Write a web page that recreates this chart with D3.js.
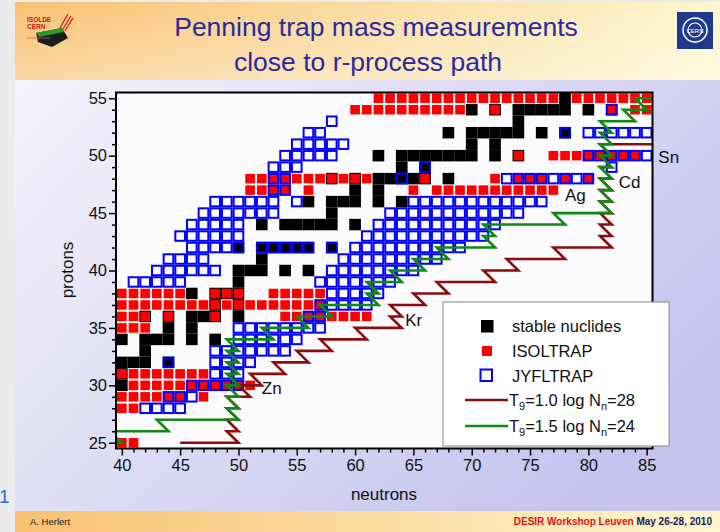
<!DOCTYPE html>
<html><head><meta charset="utf-8">
<script src="https://cdn.jsdelivr.net/npm/d3@7"></script>
<style>body{margin:0;background:#fff;} svg{display:block;font-family:Arial,"Liberation Sans",sans-serif;}</style>
</head><body><svg id="c" width="720" height="532"></svg>
<script>
// ---------- data ----------
const xTicks = [40,45,50,55,60,65,70,75,80,85];
const yTicks = [25,30,35,40,45,50,55];
// stable nuclides: [Z, [N...]]
const stableRows = [
 [30,[40]],[31,[40]],[32,[40,41,42,44]],[33,[42]],[34,[40,42,43,44,46,48]],
 [35,[44,46]],[36,[42,44,46,47,48,50]],[37,[48,50]],[38,[46,48,49,50]],[39,[50]],
 [40,[50,51,52,54,56]],[41,[52]],[42,[50,52,53,54,55,56,58]],[44,[52,54,55,56,57,58,60]],
 [45,[58]],[46,[56,58,59,60,62,64]],[47,[60,62]],[48,[58,60,62,63,64,65,66,68]],
 [49,[64,66]],[50,[62,64,65,66,67,68,69,70,72,74]],[51,[70,72]],
 [52,[68,70,71,72,73,74,76,78]],[53,[74]],[54,[70,72,74,75,76,77,78,80,82]],[55,[78]]
];
// ISOLTRAP: [Z, [N...]]
const isoltrapRows = [
 [25,[40,41]],
 [28,[40,41]],
 [29,[40,41,42,43,44,45,47]],
 [30,[41,42,43,44,45,46,47,48,49,50,51]],
 [31,[40,41,42,43,44,45,46,47]],
 [35,[40,41,42]],
 [36,[40,41,42,44,48,54,55,56,57,58,59,60,61]],
 [37,[40,41,42,43,44,45,46,47,48,49,50,51,52,53,54,55,56,57]],
 [38,[40,41,42,43,44,45,48,49,50,53,54,55,56,57]],
 [47,[51,52,53,54,56,65,67,68,69,70,71,72,73,74,75,76,77]],
 [48,[51,52,53,54,55,56,57,58,59,60,61,66,72,74,75,76,78,80]],
 [50,[74,77,78,79,80,81,82,83,84]],
 [54,[60,61,62,63,64,65,66,67,68,69,72,82,84,85]],
 [55,[62,63,64,65,66,67,68,69,70,71,72,73,74,75,76,77,79,80,81,82,83,84,85]]
];
// JYFLTRAP: [Z, [N...]]
const jyflRows = [
 [28,[42,43,44,45]],
 [29,[44,45,46]],
 [30,[46,47,48,49,50]],
 [31,[48,49,50]],
 [32,[44,48,49,50,51]],
 [33,[48,49,50,51,52,53,54]],
 [34,[50,51,52,53,54,55]],
 [35,[50,51,52,53,54,55,56,57]],
 [36,[56,57]],
 [37,[57,58,59,60,61]],
 [38,[58,59,60,61,62]],
 [39,[41,42,43,44,45,57,58,59,60,61,62,63]],
 [40,[43,44,45,46,47,48,58,59,60,61,62,63,64,65]],
 [41,[44,45,46,47,59,60,61,62,63,64,65,66,67]],
 [42,[46,47,48,49,50,52,53,54,55,56,58,60,61,62,63,64,65,66,67,68,69]],
 [43,[45,46,47,48,49,50,61,62,63,64,65,66,67,68,69,70,71]],
 [44,[46,47,48,49,50,62,63,64,65,66,67,68,69,70,71,72]],
 [45,[47,48,49,50,51,52,53,63,64,65,66,67,68,69,70,71,72,73,74]],
 [46,[48,49,50,51,52,53,55,65,66,67,68,69,70,71,72,73,74,75,76]],
 [47,[53,54]],
 [48,[53,54,64,73,74,75,76,77,78,79,80]],
 [49,[53,54,55,66,82]],
 [50,[54,55,56,57,58,80,81,82,83,84,85]],
 [51,[55,56,57,58,59]],
 [52,[56,57,78,80,81,82,83,84,85]],
 [53,[58]],
 [54,[82]]
];
// r-process paths: [N, Z]
const pathT10 = [[45,25],[50,25],[49,26],[50,26],[49,27],[50,27],[49,28],[50,28],[49,29],[51,29],[50,30],[52,30],[51,31],[54,31],[53,32],[56,32],[55,33],[58,33],[57,34],[61,34],[60,35],[64,35],[63,36],[64,36],[63,37],[66,37],[65,38],[68,38],[67,39],[72,39],[71,40],[74,40],[73,41],[78,41],[77,42],[82,42],[81,43],[82,43],[81,44],[82,44],[81,45],[82,45],[81,46],[82,46],[81,47],[82,47],[81,48],[82,48],[81,49],[82,49],[81,50],[82,50],[81,51],[87,51]];
const pathT15 = [[38,25],[40,25],[39,26],[44,26],[43,27],[50,27],[49,28],[50,28],[49,29],[50,29],[49,30],[50,30],[49,31],[50,31],[49,32],[50,32],[49,33],[50,33],[49,34],[53,34],[52,35],[56,35],[55,36],[58,36],[57,37],[62,37],[61,38],[62,38],[61,39],[64,39],[63,40],[66,40],[65,41],[68,41],[67,42],[72,42],[71,43],[72,43],[71,44],[78,44],[77,45],[82,45],[81,46],[82,46],[81,47],[82,47],[81,48],[82,48],[81,49],[82,49],[81,50],[82,50],[81,51],[82,51],[81,52],[82,52],[81,53],[84,53],[83,54],[85,54],[84,55],[87,55]];
const elementLabels = [["Sn",86.0,49.9],["Cd",82.6,47.7],["Ag",78.0,46.6],["Kr",64.3,35.7],["Zn",52.0,29.8]];
const legendItems = ["stable nuclides","ISOLTRAP","JYFLTRAP"];

// ---------- drawing ----------
const svg = d3.select("#c");
const defs = svg.append("defs");
const gHead = defs.append("linearGradient").attr("id","gh").attr("x1",0).attr("x2",1).attr("y1",0).attr("y2",0);
gHead.append("stop").attr("offset","0%").attr("stop-color","#f8c172");
gHead.append("stop").attr("offset","100%").attr("stop-color","#fef7cf");
const gHeadV = defs.append("linearGradient").attr("id","ghv").attr("x1",0).attr("x2",0).attr("y1",0).attr("y2",1);
gHeadV.append("stop").attr("offset","0%").attr("stop-color","#ffffff").attr("stop-opacity",0);
gHeadV.append("stop").attr("offset","100%").attr("stop-color","#ffffff").attr("stop-opacity",0.35);
const gBody = defs.append("linearGradient").attr("id","gb").attr("x1",0).attr("x2",1).attr("y1",0).attr("y2",0.6);
gBody.append("stop").attr("offset","0%").attr("stop-color","#f4f4fb");
gBody.append("stop").attr("offset","100%").attr("stop-color","#c4c4ee");

svg.append("rect").attr("width",720).attr("height",532).attr("fill","#ebebeb");
svg.append("rect").attr("x",15).attr("y",80).attr("width",705).attr("height",432).attr("fill","url(#gb)");
svg.append("rect").attr("x",15).attr("y",2).attr("width",705).attr("height",78).attr("fill","url(#gh)");
svg.append("rect").attr("x",15).attr("y",2).attr("width",705).attr("height",78).attr("fill","url(#ghv)");
svg.append("rect").attr("x",15).attr("y",511).attr("width",705).attr("height",21).attr("fill","url(#gh)");

// title
svg.append("text").attr("x",376).attr("y",36).attr("text-anchor","middle").attr("font-size",26.5).attr("fill","#2a2aa0").text("Penning trap mass measurements");
svg.append("text").attr("x",368).attr("y",71).attr("text-anchor","middle").attr("font-size",26.5).attr("fill","#2a2aa0").text("close to r-process path");

// ISOLDE logo (simplified)
const logo = svg.append("g");
logo.append("path").attr("d","M36,33 L62,28 L68,38 L52,47 L38,42 Z").attr("fill","#1c1c1c");
logo.append("path").attr("d","M36,33 L62,28 L64,32 L39,37 Z").attr("fill","#2a9a2a");
logo.append("path").attr("d","M60,28 L68,14 M63,29 L71,16 M65,31 L73,18").attr("stroke","#d02020").attr("stroke-width",1.3);
logo.append("text").attr("x",27).attr("y",22).attr("font-size",6.5).attr("font-weight","bold").attr("fill","#c01818").text("ISOLDE");
logo.append("text").attr("x",27).attr("y",29).attr("font-size",6.5).attr("font-weight","bold").attr("fill","#c01818").text("CERN");
logo.append("line").attr("x1",27).attr("x2",50).attr("y1",38).attr("y2",38).attr("stroke","#d06060").attr("stroke-width",0.8);
// CERN logo (simplified)
const cern = svg.append("g");
cern.append("rect").attr("x",677).attr("y",12).attr("width",36).attr("height",37).attr("fill","#1f3a8c");
cern.append("circle").attr("cx",695).attr("cy",30).attr("r",12).attr("fill","none").attr("stroke","#fff").attr("stroke-width",1.5);
cern.append("circle").attr("cx",695).attr("cy",30).attr("r",7).attr("fill","none").attr("stroke","#fff").attr("stroke-width",1.2);
cern.append("text").attr("x",695).attr("y",33).attr("text-anchor","middle").attr("font-size",6).attr("fill","#fff").text("CERN");

// footer
svg.append("text").attr("x",30).attr("y",525).attr("font-size",9.5).attr("fill","#222").text("A. Herlert");
const ft = svg.append("text").attr("x",712).attr("y",525).attr("text-anchor","end").attr("font-size",10).attr("font-weight","bold");
ft.append("tspan").attr("fill","#e01010").text("DESIR Workshop Leuven ");
ft.append("tspan").attr("fill","#1a1a50").text("May 26-28, 2010");
svg.append("text").attr("x",-1).attr("y",503).attr("font-size",19).attr("fill","#2d6fd0").text("1");

// scales
const x = d3.scaleLinear().domain([39.5,85.5]).range([116,652.5]);
const y = d3.scaleLinear().domain([24.5,55.5]).range([448.5,92.5]);
const cw = x(1)-x(0), ch = y(0)-y(1);

svg.append("rect").attr("x",x(39.5)).attr("y",y(55.5)).attr("width",x(85.5)-x(39.5)).attr("height",y(24.5)-y(55.5)).attr("fill","#fbfbfe");

const flat = rows => rows.flatMap(([z,ns]) => ns.map(n => ({n, z})));
const plot = svg.append("g");
plot.selectAll("rect.st").data(flat(stableRows)).join("rect").attr("class","st")
  .attr("x",d=>x(d.n)-cw/2).attr("y",d=>y(d.z)-ch/2).attr("width",cw).attr("height",ch).attr("fill","#000");
plot.selectAll("rect.is").data(flat(isoltrapRows)).join("rect").attr("class","is")
  .attr("x",d=>x(d.n)-cw/2+1).attr("y",d=>y(d.z)-ch/2+1).attr("width",cw-2).attr("height",ch-2).attr("fill","#ff0000");
plot.selectAll("rect.jy").data(flat(jyflRows)).join("rect").attr("class","jy")
  .attr("x",d=>x(d.n)-cw/2+1).attr("y",d=>y(d.z)-ch/2+1).attr("width",cw-2).attr("height",ch-2)
  .attr("fill","none").attr("stroke","#0000ff").attr("stroke-width",2);

const clip = defs.append("clipPath").attr("id","pc");
clip.append("rect").attr("x",x(39.5)).attr("y",y(55.5)).attr("width",x(85.5)-x(39.5)).attr("height",y(24.5)-y(55.5));
const line = d3.line().x(d=>x(d[0])).y(d=>y(d[1]));
const lg = svg.append("g").attr("clip-path","url(#pc)");
lg.append("path").attr("d",line(pathT10)).attr("fill","none").attr("stroke","#8b0d0d").attr("stroke-width",2.6).attr("stroke-linejoin","miter");
lg.append("path").attr("d",line(pathT15)).attr("fill","none").attr("stroke","#128a12").attr("stroke-width",2.6).attr("stroke-linejoin","miter");

// frame
svg.append("rect").attr("x",x(39.5)).attr("y",y(55.5)).attr("width",x(85.5)-x(39.5)).attr("height",y(24.5)-y(55.5))
  .attr("fill","none").attr("stroke","#000").attr("stroke-width",2);

// axes
const xa = svg.append("g").attr("transform",`translate(0,${y(24.5)})`)
  .call(d3.axisBottom(x).tickValues(d3.range(40,86)).tickSize(4).tickFormat(d=>xTicks.includes(d)?d:""));
xa.selectAll(".tick line").attr("stroke-width",1.5).attr("y2",d=>xTicks.includes(d)?7:4);
xa.select(".domain").remove();
xa.selectAll("text").attr("font-size",16.5).attr("font-family","Arial,'Liberation Sans',sans-serif").attr("dy","0.95em").attr("fill","#111");
const ya = svg.append("g").attr("transform",`translate(${x(39.5)},0)`)
  .call(d3.axisLeft(y).tickValues(d3.range(25,56)).tickSize(4).tickFormat(d=>yTicks.includes(d)?d:""));
ya.selectAll(".tick line").attr("stroke-width",1.5).attr("x2",d=>yTicks.includes(d)?-7:-4);
ya.select(".domain").remove();
ya.selectAll("text").attr("font-size",16.5).attr("font-family","Arial,'Liberation Sans',sans-serif").attr("x",-9).attr("fill","#111");

svg.append("text").attr("x",384).attr("y",500).attr("text-anchor","middle").attr("font-size",17).attr("fill","#111").text("neutrons");
svg.append("text").attr("transform","translate(73,270) rotate(-90)").attr("text-anchor","middle").attr("font-size",17).attr("fill","#111").text("protons");

// element labels
svg.selectAll("text.el").data(elementLabels).join("text").attr("class","el")
  .attr("x",d=>x(d[1])).attr("y",d=>y(d[2])+6).attr("font-size",17).attr("fill","#111").text(d=>d[0]);

// legend
const L = svg.append("g");
L.append("rect").attr("x",443).attr("y",302).attr("width",226).attr("height",144).attr("fill","#fff").attr("stroke","#888").attr("stroke-width",1);
L.append("rect").attr("x",481).attr("y",320).attr("width",12.5).attr("height",12.5).attr("fill","#000");
L.append("rect").attr("x",482).attr("y",346).attr("width",10).attr("height",10).attr("fill","#ff0000");
L.append("rect").attr("x",480.5).attr("y",369.5).attr("width",11.5).attr("height",11.5).attr("fill","none").attr("stroke","#0000ff").attr("stroke-width",2);
L.selectAll("text.li").data(legendItems).join("text").attr("class","li").attr("x",512).attr("y",(d,i)=>332+i*25).attr("font-size",16.5).attr("fill","#111").text(d=>d);
L.append("line").attr("x1",465).attr("x2",508).attr("y1",400).attr("y2",400).attr("stroke","#8b0d0d").attr("stroke-width",2.6);
L.append("line").attr("x1",465).attr("x2",508).attr("y1",426).attr("y2",426).attr("stroke","#128a12").attr("stroke-width",2.6);
function tlabel(yy, t, n){
  const t1 = L.append("text").attr("x",509).attr("y",yy).attr("font-size",16.5).attr("fill","#111");
  t1.append("tspan").text("T");
  t1.append("tspan").attr("font-size",11).attr("dy",4).text("9");
  t1.append("tspan").attr("dy",-4).text("="+t+" log N");
  t1.append("tspan").attr("font-size",11).attr("dy",4).text("n");
  t1.append("tspan").attr("dy",-4).text("="+n);
}
tlabel(406,"1.0","28");
tlabel(432,"1.5","24");
</script></body></html>
